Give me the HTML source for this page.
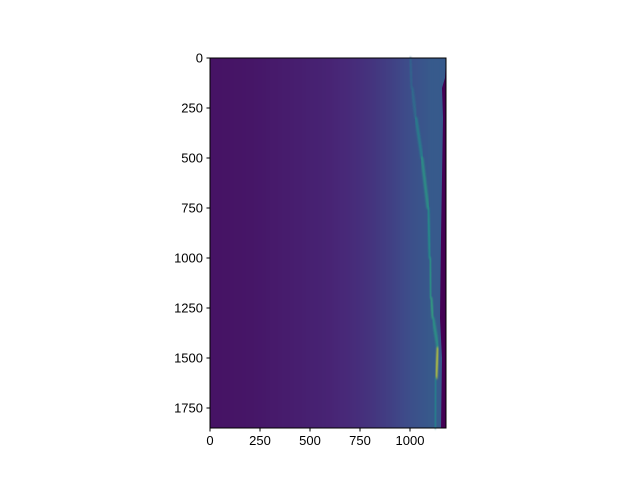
<!DOCTYPE html>
<html><head><meta charset="utf-8"><style>
body{margin:0;background:#fff;width:640px;height:480px;overflow:hidden}
text{font-family:"Liberation Sans","DejaVu Sans",sans-serif;font-size:13px;fill:#000}
</style></head><body>
<svg id="chart" width="640" height="480">
<defs><filter id="blur"><feGaussianBlur stdDeviation="1"/></filter></defs>
<g id="img"></g>
<g id="axes"></g>
</svg>
<script>
const xTicks=[0,250,500,750,1000];
const yTicks=[0,250,500,750,1000,1250,1500,1750];
const colX=[0,200,400,600,700,800,900,1000,1100,1180];
const colVal=[0.05,0.06,0.08,0.1,0.12,0.15,0.19,0.24,0.28,0.28];
const ridgeY=[0,150,300,500,750,1000,1200,1300,1450,1600,1850];
const ridgeX=[1000,1010,1030,1060,1090,1100,1105,1115,1140,1130,1125];
const ridgeV=[0.35,0.4,0.5,0.6,0.55,0.6,0.65,0.6,0.95,0.5,0.45];
const edgeY=[0,100,150,300,600,900,1300,1500,1850];
const edgeX=[1180,1175,1160,1165,1160,1155,1150,1160,1155];
const W=1180,H=1850,L=210,T=58,S=0.2;
const sx=v=>L+v*S, sy=v=>T+v*S;
function viridis(t){const c=[[68,1,84],[72,40,120],[62,74,137],[49,104,142],[38,130,142],[31,158,137],[53,183,121],[109,205,89],[180,222,44],[253,231,37]];
t=Math.max(0,Math.min(1,t))*9;const i=Math.min(8,Math.floor(t)),f=t-i;return 'rgb('+c[i].map((a,k)=>Math.round(a+(c[i+1][k]-a)*f)).join(',')+')';}
const NS='http://www.w3.org/2000/svg';
function mk(tag,at,p){const e=document.createElementNS(NS,tag);for(const k in at)e.setAttribute(k,at[k]);p.appendChild(e);return e;}
const img=document.getElementById('img');
for(let i=0;i<colX.length-1;i++){
 const n=10;
 for(let j=0;j<n;j++){
  const a=colX[i]+(colX[i+1]-colX[i])*j/n,b=colX[i]+(colX[i+1]-colX[i])*(j+1)/n;
  const v=colVal[i]+(colVal[i+1]-colVal[i])*j/n;
  const r=mk('rect',{x:sx(a),y:sy(0),width:(b-a)*S+0.5,height:H*S,fill:viridis(v)},img);
  
  
 }
}
for(let i=0;i<ridgeY.length-1;i++){
 const l=mk('line',{x1:sx(ridgeX[i]),y1:sy(ridgeY[i]),x2:sx(ridgeX[i+1]),y2:sy(ridgeY[i+1]),stroke:viridis(ridgeV[i]),'stroke-width':2,'stroke-linecap':'round',filter:'url(#blur)'},img);
 
 
}
let d='M'+sx(W)+','+sy(0);
for(let i=0;i<edgeY.length;i++)d+=' L'+sx(edgeX[i])+','+sy(edgeY[i]);
d+=' L'+sx(W)+','+sy(H)+'Z';
const ed=mk('path',{d:d,fill:viridis(0)},img);


const ax=document.getElementById('axes');
const fr=mk('rect',{x:L,y:T,width:W*S,height:H*S,fill:'none',stroke:'#000','stroke-width':1},ax);


xTicks.forEach(v=>{
 mk('line',{x1:sx(v),y1:sy(H),x2:sx(v),y2:sy(H)+3.5,stroke:'#000'},ax);
 const t=mk('text',{x:sx(v),y:sy(H)+17,'text-anchor':'middle'},ax);t.textContent=v;
 
 
});
yTicks.forEach(v=>{
 mk('line',{x1:L,y1:sy(v),x2:L-3.5,y2:sy(v),stroke:'#000'},ax);
 const t=mk('text',{x:L-7,y:sy(v)+4.5,'text-anchor':'end'},ax);t.textContent=v;
 
 
});
</script>
</body></html>
